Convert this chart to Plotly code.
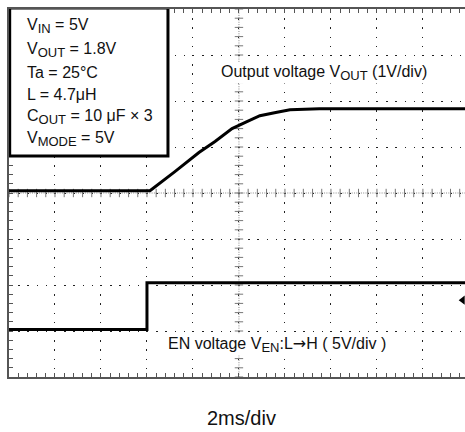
import numpy as np
import plotly.graph_objects as go

# ---------------- data ----------------
# time in ms (2 ms/div)
vout_t = [0.0, 6.13, 7.2, 8.26, 8.96, 9.70, 10.3, 10.91, 11.6, 12.22, 13.5, 19.83]
vout_v = [0.0, 0.0, 0.41, 0.83, 1.07, 1.35, 1.49, 1.63, 1.70, 1.76, 1.78, 1.78]
en_t = [0.0, 6.0, 6.0, 19.83]
en_v = [0.0, 0.0, 5.1, 5.1]

vout_scale = 1.0   # V/div
en_scale = 5.0     # V/div
vout_gnd = 4.05    # ground position (div)
en_gnd = 1.03      # ground position (div)
trig_level = 1.67  # trigger marker position (div)


def sub(s):
    return '<sub><span style="font-size:13px">' + s + '</span></sub>'


ARROW = '<span style="font-family:DejaVu Sans">→</span>'

cond_lines = ["V" + sub("IN") + " = 5V", "V" + sub("OUT") + " = 1.8V", "Ta = 25°C",
              "L = 4.7μH", "C" + sub("OUT") + " = 10 μF × 3", "V" + sub("MODE") + " = 5V"]
vout_label = "Output voltage V" + sub("OUT") + " (1V/div)"
en_label = "EN voltage V" + sub("EN") + ":L" + ARROW + "H ( 5V/div )"
time_label = "2ms/div"

ms_per_div = 2.0
n_ydiv = 8
x_max = 19.83

FONT = "Arial, Liberation Sans, sans-serif"

fig = go.Figure()

# center cross (dense dotted with tick marks)
minor_x = np.arange(0, x_max + 1e-6, ms_per_div / 5)
minor_y = np.arange(0, n_ydiv + 1e-6, 0.2)
fig.add_shape(type="line", x0=0, x1=x_max, y0=n_ydiv / 2, y1=n_ydiv / 2,
              line=dict(color="#8a8a8a", width=1, dash="1px,1.3px"), layer="below")
fig.add_shape(type="line", x0=5 * ms_per_div, x1=5 * ms_per_div, y0=0, y1=n_ydiv,
              line=dict(color="#8a8a8a", width=1, dash="1px,1.3px"), layer="below")
fig.add_trace(go.Scatter(x=minor_x, y=[n_ydiv / 2] * len(minor_x), mode="markers",
                         marker=dict(symbol="line-ns", size=6, line=dict(color="#777", width=1)),
                         hoverinfo="skip", showlegend=False))
fig.add_trace(go.Scatter(x=[5 * ms_per_div] * len(minor_y), y=minor_y, mode="markers",
                         marker=dict(symbol="line-ew", size=6, line=dict(color="#777", width=1)),
                         hoverinfo="skip", showlegend=False))

# traces
fig.add_trace(go.Scatter(x=vout_t, y=[vout_gnd + v / vout_scale for v in vout_v],
                         mode="lines", line=dict(color="black", width=3),
                         hoverinfo="skip", showlegend=False))
fig.add_trace(go.Scatter(x=en_t, y=[en_gnd + v / en_scale for v in en_v],
                         mode="lines", line=dict(color="black", width=3),
                         hoverinfo="skip", showlegend=False))

# ground / trigger markers
fig.add_trace(go.Scatter(x=[-0.12, -0.12], y=[vout_gnd, en_gnd], mode="markers",
                         marker=dict(symbol="triangle-right", size=[9, 5], color="black"),
                         cliponaxis=False, hoverinfo="skip", showlegend=False))
fig.add_trace(go.Scatter(x=[x_max - 0.1], y=[trig_level], mode="markers",
                         marker=dict(symbol="triangle-left", size=8, color="black"),
                         cliponaxis=False, hoverinfo="skip", showlegend=False))

# condition box
box_x1 = (168 - 9) / 46 * ms_per_div
box_y0 = (377 - 156) / 46
fig.add_shape(type="rect", x0=0.03, x1=box_x1, y0=box_y0, y1=n_ydiv + 0.02,
              line=dict(color="black", width=3), fillcolor="white", layer="above")

line_y = [26, 49.5, 72, 94, 117, 139]
for txt, py in zip(cond_lines, line_y):
    fig.add_annotation(x=(25 - 9) / 46 * ms_per_div, y=(377 - py) / 46, text=txt,
                       xanchor="left", yanchor="middle", showarrow=False,
                       font=dict(family=FONT, size=16, color="#111"))

fig.add_annotation(x=(220 - 9) / 46 * ms_per_div, y=(377 - 73) / 46, text=vout_label,
                   xanchor="left", yanchor="middle", showarrow=False,
                   bgcolor="white", borderpad=0,
                   font=dict(family=FONT, size=16, color="#111"))
fig.add_annotation(x=(167 - 9) / 46 * ms_per_div, y=(377 - 344) / 46, text=en_label,
                   xanchor="left", yanchor="middle", showarrow=False,
                   bgcolor="white", borderpad=0,
                   font=dict(family=FONT, size=16, color="#111"))
fig.add_annotation(xref="paper", yref="paper", x=(241 - 9) / 456, y=(377 - 418) / 368,
                   text=time_label, xanchor="center", yanchor="middle", showarrow=False,
                   font=dict(family=FONT, size=20, color="#111"))

fig.update_xaxes(range=[0, x_max], dtick=ms_per_div, tick0=0, showticklabels=False,
                 showgrid=True, gridcolor="#222", gridwidth=1.3, griddash="1.3px,7.9px",
                 zeroline=False, showline=True, linecolor="#555", linewidth=1.5,
                 mirror="ticks", ticks="inside", ticklen=4, tickcolor="#555",
                 minor=dict(dtick=ms_per_div / 5, ticks="inside", ticklen=4,
                            tickcolor="#555", showgrid=False))
fig.update_yaxes(range=[0, n_ydiv], dtick=1, tick0=0, showticklabels=False,
                 showgrid=True, gridcolor="#222", gridwidth=1.3, griddash="1.3px,7.9px",
                 zeroline=False, showline=True, linecolor="#555", linewidth=1.5,
                 mirror=False, ticks="inside", ticklen=4, tickcolor="#555",
                 minor=dict(dtick=0.2, ticks="inside", ticklen=4,
                            tickcolor="#555", showgrid=False))

fig.update_layout(width=465, height=432, autosize=False,
                  margin=dict(l=9, r=0, t=9, b=55),
                  paper_bgcolor="white", plot_bgcolor="white",
                  showlegend=False)

fig.write_html("out.html", config={"displayModeBar": False},
               post_script="document.body.style.margin='0px';document.body.style.overflow='hidden';")
